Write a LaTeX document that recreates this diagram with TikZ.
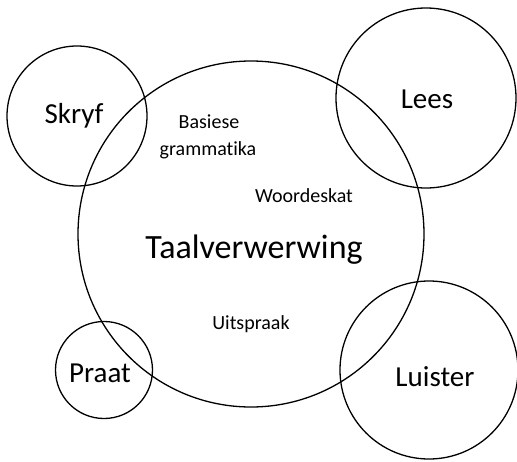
\documentclass[tikz,border=0pt]{standalone}
\usepackage{fontspec}
\setmainfont{Carlito}[Ligatures=NoCommon]
\usetikzlibrary{positioning}

\begin{document}
\begin{tikzpicture}[
    x=1pt, y=-1pt,
    ring/.style={draw, circle, line width=1.3pt, inner sep=0pt},
    biglabel/.style={font=\fontsize{29}{32}\selectfont, anchor=base},
    toplabel/.style={font=\fontsize{34}{38}\selectfont, anchor=base},
    smalllabel/.style={font=\fontsize{20}{23}\selectfont, anchor=base}
]
\useasboundingbox (0,0) rectangle (517,461);

% --- RINGS ---
\node[ring, minimum size=346pt] (taal)    at (251,234) {};
\node[ring, minimum size=140pt] (skryf)   at (77,116)  {};
\node[ring, minimum size=180pt] (lees)    at (426,98)  {};
\node[ring, minimum size=97pt]  (praat)   at (104,370) {};
\node[ring, minimum size=178pt] (luister) at (429,370) {};

% --- LABELS ---
\node[toplabel] (taaltext)    at (254,258) {Taalverwerwing};
\node[biglabel] (skryftext)   at (74,123)  {Skryf};
\node[biglabel] (leestext)    at (427,108) {Lees};
\node[biglabel] (praattext)   at (100,382) {Praat};
\node[biglabel] (luistertext) at (435,386) {Luister};

% --- TOPICS ---
\node[smalllabel] (basiese)    at (209,128) {Basiese};
\node[smalllabel] (grammatika) at (208,155) {grammatika};
\node[smalllabel] (woordeskat) at (304,202) {Woordeskat};
\node[smalllabel] (uitspraak)  at (251,329) {Uitspraak};

\end{tikzpicture}
\end{document}
